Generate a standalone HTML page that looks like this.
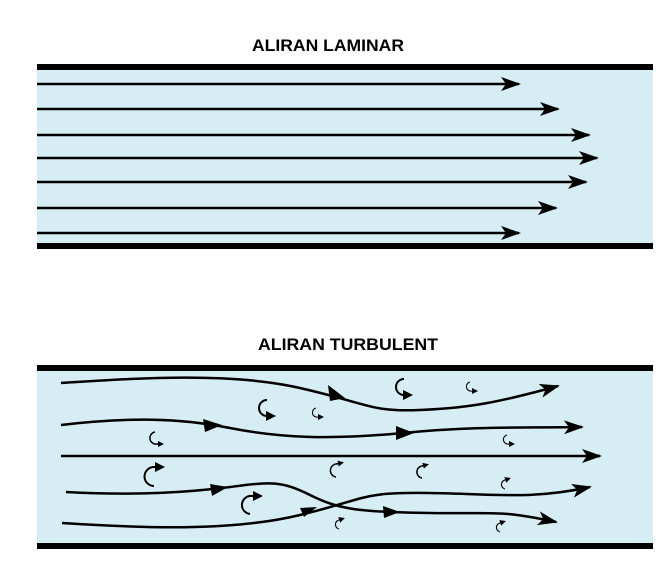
<!DOCTYPE html>
<html><head><style>
html,body{margin:0;padding:0;background:#fff;width:669px;height:567px;overflow:hidden}
svg{display:block}
text{font-family:"Liberation Sans",Arial,sans-serif;font-weight:bold;font-size:17px}
</style></head><body>
<svg width="669" height="567" viewBox="0 0 669 567">
<defs>
<marker id="b" viewBox="0 0 20 14" markerWidth="20" markerHeight="14" refX="18" refY="7" orient="auto" markerUnits="userSpaceOnUse"><path d="M0,0 L20,7 L0,14 L5,7z"/></marker>
<marker id="s" viewBox="0 0 10 10" markerWidth="10" markerHeight="10" refX="5" refY="5" orient="auto" markerUnits="userSpaceOnUse"><path d="M0,0 L10,5 L0,10z"/></marker>
<marker id="t" viewBox="0 0 10 10" markerWidth="6" markerHeight="6" refX="5" refY="5" orient="auto" markerUnits="userSpaceOnUse"><path d="M0,0 L10,5 L0,10z"/></marker>
</defs>
<text x="252" y="51" textLength="152" lengthAdjust="spacingAndGlyphs">ALIRAN LAMINAR</text>
<rect x="37" y="67" width="616" height="179" fill="#d6edf3"/>
<rect x="37" y="64" width="616" height="6" fill="#000"/>
<rect x="37" y="243" width="616" height="6" fill="#000"/>
<g stroke="#000" stroke-width="2.5" marker-end="url(#b)">
<line x1="37" y1="84" x2="519" y2="84"/>
<line x1="37" y1="109" x2="558" y2="109"/>
<line x1="37" y1="135" x2="589" y2="135"/>
<line x1="37" y1="158" x2="597" y2="158"/>
<line x1="37" y1="182" x2="586" y2="182"/>
<line x1="37" y1="208" x2="556" y2="208"/>
<line x1="37" y1="233" x2="519" y2="233"/>
</g>
<text x="258" y="350" textLength="180" lengthAdjust="spacingAndGlyphs">ALIRAN TURBULENT</text>
<rect x="37" y="370" width="616" height="175" fill="#d6edf3"/>
<rect x="37" y="365" width="616" height="6" fill="#000"/>
<rect x="37" y="543" width="616" height="6" fill="#000"/>
<g stroke="#000" stroke-width="2.5" fill="none">
<path d="M61,383 C140,378 230,372 300,388 S370,412 420,410 S500,402 558,386" marker-end="url(#b)"/>
<path d="M61,425 C130,417 180,418 230,428 S330,440 403,433 S520,428 582,427" marker-end="url(#b)"/>
<path d="M61,456 L600,456" marker-end="url(#b)"/>
<path d="M66,492 C140,496 190,492 230,487 S280,480 310,495 S360,512 430,513 S500,510 556,522" marker-end="url(#b)"/>
<path d="M62,523 C140,528 230,532 300,515 S360,492 429,493 S530,500 590,487" marker-end="url(#b)"/>
</g>
<g fill="#000">
<path d="M328,385 L345,398 L330,401z"/>
<path d="M203,419 L222,425 L205,432z"/>
<path d="M396,426 L414,433 L396,440z"/>
<path d="M210,484 L228,487 L212,496z"/>
<path d="M383,506 L400,512 L384,518z"/>
<path d="M300,508 L317,507 L304,517z"/>
</g>
<g stroke="#000" fill="none" stroke-width="2">
<path d="M404,379 A8,8 0 1 0 404,395 L408,395" marker-end="url(#s)"/>
<path d="M267,400 A8,8 0 1 0 267,416 L271,416" marker-end="url(#s)"/>
<path d="M154,467 A9,9 0 1 0 154,486 M152,467 L160,467" marker-end="url(#s)"/>
<path d="M252,496 A9,9 0 1 0 250,514 M250,496 L258,496" marker-end="url(#s)"/>
</g>
<g stroke="#000" fill="none" stroke-width="1.5">
<path d="M155,432 A6,6 0 1 0 157,444 L161,444" marker-end="url(#t)"/>
<path d="M338,464 A6,6 0 1 0 336,477 M336,464 L341,463" marker-end="url(#t)"/>
<path d="M424,466 A5,5 0 1 0 422,478 M422,466 L426,465" marker-end="url(#t)"/>
</g>
<g stroke="#000" fill="none" stroke-width="1.1">
<path d="M470,382 A4,4 0 1 0 472,391 L475,391" marker-end="url(#t)"/>
<path d="M316,408 A4,4 0 1 0 318,417 L321,417" marker-end="url(#t)"/>
<path d="M507,435 A4,4 0 1 0 509,444 L512,444" marker-end="url(#t)"/>
<path d="M507,480 A4,4 0 1 0 505,489 M505,480 L508,479" marker-end="url(#t)"/>
<path d="M341,520 A4,4 0 1 0 339,529 M339,520 L342,519" marker-end="url(#t)"/>
<path d="M502,523 A4,4 0 1 0 500,532 M500,523 L503,522" marker-end="url(#t)"/>
</g>
</svg>
</body></html>
